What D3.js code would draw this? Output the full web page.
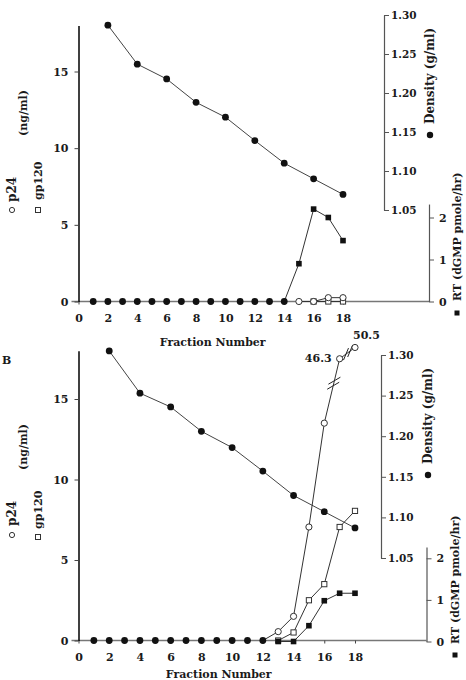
<!DOCTYPE html>
<html><head><meta charset="utf-8">
<script src="https://cdn.jsdelivr.net/npm/d3@7"></script>
<style>
body{margin:0;background:#fff}
svg{display:block}
text{font-family:"DejaVu Serif",serif;fill:#1a1a1a}
</style>
</head><body><svg id="c" width="466" height="680"></svg>
<script>
// ---------- shared tick labels ----------
const fractionTicks = [0,2,4,6,8,10,12,14,16,18];
const leftTicks = [0,5,10,15];
const densityTicks = [1.05,1.10,1.15,1.20,1.25,1.30];
const rtTicks = [0,1,2];
const densityFractions = [2,4,6,8,10,12,14,16,18];

// ---------- panel A (top) ----------
const zeroA = [1,2,3,4,5,6,7,8,9,10,11,12,13,14];
const densityA = [1.287,1.237,1.218,1.188,1.169,1.139,1.110,1.090,1.070];
const p24FracA = [15,16,17,18];
const p24A = [0,0,0.25,0.25];
const gp120FracA = [16,17,18];
const gp120A = [0,0,0];
const rtFracA = [14,15,16,17,18];
const rtA = [0,0.9,2.2,2.0,1.45];

// ---------- panel B (bottom) ----------
const zeroB = [1,2,3,4,5,6,7,8,9,10,11,12];
const densityB = [1.305,1.253,1.236,1.206,1.186,1.157,1.127,1.107,1.087];
const p24FracB = [12,13,14,15,16,17,18];
const p24B = [0,0.55,1.5,7.05,13.5,46.3,50.5];
const gp120FracB = [13,14,15,16,17,18];
const gp120B = [0,0.5,2.5,3.5,7.05,8.05];
const rtFracB = [13,14,15,16,17,18];
const rtB = [0,0,0.38,0.98,1.16,1.16];

const svg = d3.select("#c");
const LINE = "#333";

function panel(o){
  const g = svg.append("g");
  const x = d3.scaleLinear([0,18],[o.x0,o.x18]);
  const y = d3.scaleLinear([0,18],[o.y0,o.yTop]);
  const yd = d3.scaleLinear([1.05,1.30],[o.d105,o.d130]);
  const yr = d3.scaleLinear([0,2],[o.r0,o.r2]);
  const yp = o.p24Scale ? o.p24Scale(y) : y;

  // zero line
  g.append("line").attr("x1",o.x0-7).attr("x2",o.rX).attr("y1",o.y0).attr("y2",o.y0)
    .attr("stroke","#777").attr("stroke-width",1.4);

  // x axis ticks + labels
  const xa = g.append("g").attr("transform",`translate(0,${o.y0})`)
    .call(d3.axisBottom(x).tickValues(fractionTicks).tickSize(3).tickPadding(10).tickFormat(d3.format("d")));
  xa.select(".domain").remove();
  xa.selectAll("line").attr("stroke","#444");
  xa.selectAll("text").attr("font-size",11).attr("font-weight","bold").style("font-family","DejaVu Serif");
  g.append("text").attr("x",(x(0)+x(18))/2+2+o.fnShift).attr("y",o.y0+o.fnDy).attr("text-anchor","middle")
    .attr("font-size",11).attr("font-weight","bold").text("Fraction Number");

  // left axis
  const la = g.append("g").attr("transform",`translate(${o.x0},0)`)
    .call(d3.axisLeft(y).tickValues(leftTicks).tickSize(4).tickSizeOuter(0).tickPadding(6));
  la.select(".domain").attr("stroke","#000").attr("stroke-width",1.5);
  la.selectAll("line").attr("stroke","#444");
  la.selectAll("text").attr("font-size",11).attr("font-weight","bold").style("font-family","DejaVu Serif");

  // density axis
  const da = g.append("g").attr("transform",`translate(${o.dX},0)`)
    .call(d3.axisRight(yd).tickValues(densityTicks).tickSize(5).tickSizeOuter(0).tickPadding(2).tickFormat(d3.format(".2f")));
  da.select(".domain").attr("stroke","#555").attr("stroke-width",1.2);
  da.selectAll("line").attr("stroke","#555");
  da.selectAll("text").attr("font-size",10.5).attr("font-weight","bold").style("font-family","DejaVu Serif");

  // RT axis
  const yrAxis = d3.scaleLinear([0,o.rMax],[o.r0,yr(o.rMax)]);
  const ra = g.append("g").attr("transform",`translate(${o.rX},0)`)
    .call(d3.axisRight(yrAxis).tickValues(rtTicks).tickSize(5).tickSizeOuter(0).tickPadding(5).tickFormat(d3.format("d")));
  ra.select(".domain").attr("stroke","#555").attr("stroke-width",1.2);
  ra.selectAll("line").attr("stroke","#555");
  ra.selectAll("text").attr("font-size",11).attr("font-weight","bold").style("font-family","DejaVu Serif");

  // axis titles (rotated)
  const rot = (tx,ty,txt,size) => g.append("text")
    .attr("transform",`translate(${tx},${ty}) rotate(-90)`)
    .attr("dominant-baseline","central").attr("font-size",size||11).attr("font-weight","bold").text(txt);
  // left
  g.append("circle").attr("cx",o.t.p24x).attr("cy",o.t.p24m).attr("r",2.6).attr("fill","#fff").attr("stroke","#333").attr("stroke-width",1);
  rot(o.t.p24x,o.t.p24s,"p24",12);
  rot(o.t.ngx,o.t.ngs,"(ng/ml)",11);
  g.append("rect").attr("x",o.t.gpx-2.5).attr("y",o.t.gpm-2.5).attr("width",5).attr("height",5).attr("fill","#fff").attr("stroke","#333").attr("stroke-width",1);
  rot(o.t.gpx,o.t.gps,"gp120",11);
  // right
  g.append("circle").attr("cx",o.t.dx).attr("cy",o.t.dm).attr("r",3.2).attr("fill","#111");
  rot(o.t.dx,o.t.ds,"Density (g/ml)",12);
  g.append("rect").attr("x",o.t.rx-2.5).attr("y",o.t.rm-2.5).attr("width",5).attr("height",5).attr("fill","#111");
  rot(o.t.rx,o.t.rs,"RT (dGMP pmole/hr)",11);

  // density
  const dpts = densityFractions.map((f,i)=>[x(f),yd(o.density[i])]);
  g.append("path").attr("d",d3.line()(dpts)).attr("fill","none").attr("stroke","#444").attr("stroke-width",1);

  // series lines
  const pp = o.p24Frac.map((f,i)=>[x(f),yp(o.p24[i])]);
  const gp = o.gpFrac.map((f,i)=>[x(f),y(o.gp[i])]);
  const rp = o.rtFrac.map((f,i)=>[x(f),yr(o.rt[i])]);
  [pp,gp,rp].forEach(p=>g.append("path").attr("d",d3.line()(p)).attr("fill","none").attr("stroke",LINE).attr("stroke-width",1));

  // axis breaks on the p24 line
  if (o.breaks){
    o.breaks.forEach(b=>{
      const a = pp[b.seg], c = pp[b.seg+1];
      const px = a[0]+(c[0]-a[0])*b.t, py = a[1]+(c[1]-a[1])*b.t;
      const len = Math.hypot(c[0]-a[0],c[1]-a[1]);
      const ux=(c[0]-a[0])/len, uy=(c[1]-a[1])/len;
      [-b.gap,b.gap].forEach(s=>{
        const cx=px+ux*s, cy=py+uy*s;
        g.append("line").attr("x1",cx-b.mx).attr("y1",cy-b.my).attr("x2",cx+b.mx).attr("y2",cy+b.my)
          .attr("stroke","#222").attr("stroke-width",1);
      });
    });
  }

  // markers
  dpts.forEach(p=>g.append("circle").attr("cx",p[0]).attr("cy",p[1]).attr("r",3.4).attr("fill","#111"));
  gp.forEach(p=>g.append("rect").attr("x",p[0]-2.6).attr("y",p[1]-2.6).attr("width",5.2).attr("height",5.2)
    .attr("fill","#fff").attr("stroke","#333").attr("stroke-width",1));
  pp.forEach((p,i)=>{ if(o.zero.includes(o.p24Frac[i])) return;
    g.append("circle").attr("cx",p[0]).attr("cy",p[1]).attr("r",3.1).attr("fill","#fff").attr("stroke","#333").attr("stroke-width",1);});
  rp.forEach((p,i)=>{ if(o.zero.includes(o.rtFrac[i])) return;
    g.append("rect").attr("x",p[0]-2.8).attr("y",p[1]-2.8).attr("width",5.6).attr("height",5.6).attr("fill","#111");});
  o.zero.forEach(f=>g.append("circle").attr("cx",x(f)).attr("cy",y(0)).attr("r",3.4).attr("fill","#111"));

  // value callouts for off-scale p24 points
  if (o.callouts){
    o.callouts.forEach(c=>{
      const p = pp[c.i];
      g.append("text").attr("x",p[0]+c.dx).attr("y",p[1]+c.dy).attr("text-anchor",c.anchor)
        .attr("font-size",11).attr("font-weight","bold").text(d3.format(".1f")(o.p24[c.i]));
    });
  }
  return g;
}

panel({
  x0:78.5, x18:343, y0:301.5, yTop:25.5,
  d105:210, d130:15, dX:384,
  r0:301.5, r2:217.5, rX:429, rMax:2.32,
  fnDy:44, fnShift:0,
  density:densityA, zero:zeroA,
  p24Frac:p24FracA, p24:p24A, gpFrac:gp120FracA, gp:gp120A, rtFrac:rtFracA, rt:rtA,
  t:{p24x:12,p24m:210,p24s:202, ngx:23,ngs:136, gpx:38,gpm:210,gps:200,
     dx:430,dm:135,ds:124, rx:457,rm:313,rs:301}
});

panel({
  x0:78.5, x18:355, y0:640.5, yTop:350.7,
  d105:558, d130:355, dX:381,
  r0:641.5, r2:558.3, rX:426.5, rMax:2.27,
  fnDy:37.5, fnShift:0,
  density:densityB, zero:zeroB,
  p24Frac:p24FracB, p24:p24B, gpFrac:gp120FracB, gp:gp120B, rtFrac:rtFracB, rt:rtB,
  p24Scale: y => d3.scaleLinear().domain([0,16,46.3,50.5]).range([y(0),y(16),y(17.5),y(18.2)]),
  breaks:[{seg:4,t:0.62,gap:2.6,mx:6,my:-3.5},{seg:5,t:0.55,gap:2.6,mx:2.5,my:-6}],
  callouts:[{i:5,dx:-8,dy:3,anchor:"end"},{i:6,dx:-2,dy:-8,anchor:"start"}],
  t:{p24x:12,p24m:535,p24s:526, ngx:23,ngs:470, gpx:38,gpm:537,gps:529,
     dx:428,dm:475,ds:464, rx:455,rm:655,rs:644}
});

svg.append("text").attr("x",2).attr("y",364).attr("font-size",11).attr("font-weight","bold").text("B");
</script>
</body></html>
